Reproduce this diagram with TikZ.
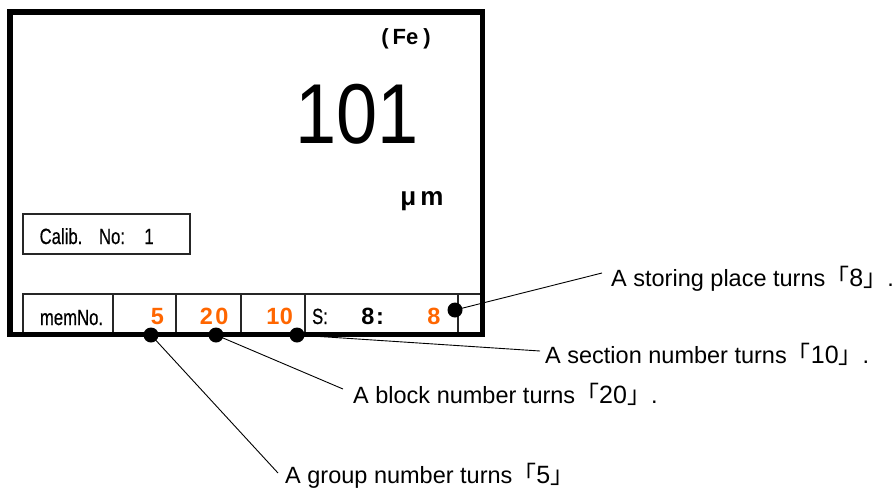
\documentclass[tikz,border=0pt]{standalone}
\usepackage{fontspec}
\setmainfont{Liberation Sans}
\newfontfamily\cjkfont{Noto Sans CJK JP}
\newfontfamily\condfont[FakeBold=0.6]{Liberation Sans}
\newcommand{\lbr}{{\cjkfont\fontsize{24}{28}\selectfont 「}}
\newcommand{\rbr}{{\cjkfont\fontsize{24}{28}\selectfont 」}}
\newcommand{\bnum}[1]{{\fontsize{25}{28}\selectfont #1}}
\definecolor{dispor}{RGB}{255,102,0}
\begin{document}
\begin{tikzpicture}[x=1pt,y=-1pt,
  thinbox/.style={draw=black!85,line width=1.3pt},
  cond/.style={inner sep=0pt,anchor=base,xscale=0.76,font=\condfont\fontsize{22}{24}\selectfont},
  dig/.style={inner sep=0pt,anchor=base,font=\fontsize{23.5}{26}\selectfont\bfseries},
  orng/.style={dig,text=dispor},
  dot/.style={circle,fill=black,inner sep=0pt,minimum size=15pt},
  lab/.style={inner sep=0pt,anchor=base west,font=\fontsize{23.5}{26}\selectfont},
  lead/.style={line width=0.9pt}]
\useasboundingbox (0,0) rectangle (894,488);
% bottom row cells
\draw[thinbox] (23,294) rectangle (113,334);
\draw[thinbox] (113,294) rectangle (176,334);
\draw[thinbox] (176,294) rectangle (241,334);
\draw[thinbox] (241,294) rectangle (305,334);
\draw[thinbox] (305,294) rectangle (458,334);
\draw[thinbox] (458,294) rectangle (482,334);
% calib box
\draw[thinbox] (23,214) rectangle (190,254);
% frame
\draw[line width=5.5pt] (10,12) rectangle (482.5,334.5);
% display texts
\node[inner sep=0pt,anchor=base,font=\fontsize{22}{24}\selectfont\bfseries] (fe) at (406,44) {(\hspace{4pt}Fe\hspace{5pt})};
\node[inner sep=0pt,anchor=base,xscale=0.87,font=\fontsize{85}{90}\selectfont] (val) at (357,143) {101};
\node[inner sep=0pt,anchor=base,font=\fontsize{26}{28}\selectfont\bfseries] (unit) at (422,205) {μ\hspace{4pt}m};
\node[cond] (cal) at (61,244) {Calib.};
\node[cond] (no) at (112,244) {No:};
\node[cond] (one) at (149,244) {1};
\node[cond] (mem) at (71.5,325) {memNo.};
\node[orng] (g5) at (157.5,324) {5};
\node[orng] (b2) at (206.5,324) {2};
\node[orng] (b0) at (222,324) {0};
\node[orng] (s1) at (273,324) {1};
\node[orng] (s0) at (286.5,324) {0};
\node[cond] (sl) at (320,324) {S:};
\node[dig] (p8) at (368,324) {8};
\node[dig] (pc) at (380,324) {:};
\node[orng] (o8) at (434,324) {8};
% dots
\node[dot] (dg) at (151,335) {};
\node[dot] (db) at (216,335) {};
\node[dot] (ds) at (297,335) {};
\node[dot] (dp) at (455,310) {};
% labels
\node[lab] (lp) at (611,286) {A storing place turns\lbr\bnum{8}\rbr.};
\node[lab] (ls) at (545,363) {A section number turns\lbr\bnum{10}\rbr.};
\node[lab] (lb) at (353,403) {A block number turns\lbr\bnum{20}\rbr.};
\node[lab] (lg) at (285,483) {A group number turns\lbr\bnum{5}\rbr};
% leaders
\draw[lead] (dp.center) -- ([shift={(-9,-13)}]lp.base west);
\draw[lead] (ds.center) -- ([shift={(-5,-12)}]ls.base west);
\draw[lead] (db.center) -- ([shift={(-10,-14)}]lb.base west);
\draw[lead] (dg.center) -- ([shift={(-7,-10)}]lg.base west);
\end{tikzpicture}
\end{document}
